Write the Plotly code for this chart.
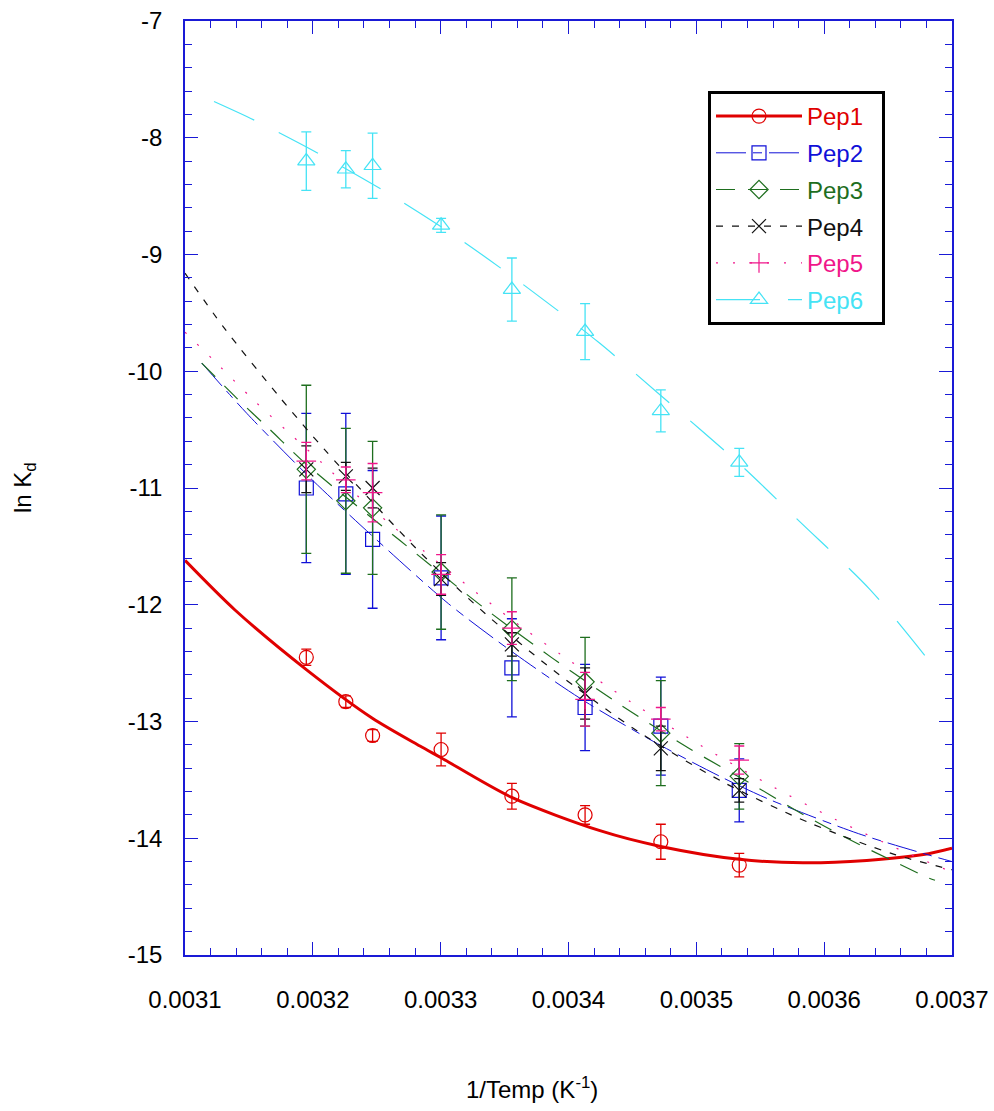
import plotly.graph_objects as go

# Measurement temperatures (K) and reciprocal temperature axis
temps_K = [313, 310, 308, 303, 298, 293, 288, 283]
inv_T = [1.0 / t for t in temps_K]

# ln Kd measurements and their uncertainties for each peptide
pep1_y = [-12.45, -12.83, -13.12, -13.24, -13.64, -13.80, -14.03, -14.23]
pep1_err = [0.07, 0.05, 0.05, 0.14, 0.11, 0.08, 0.15, 0.10]
pep2_y = [-11.00, -11.05, -11.44, -11.77, -12.54, -12.88, -13.04, -13.59]
pep2_err = [0.64, 0.69, 0.59, 0.53, 0.42, 0.37, 0.42, 0.27]
pep3_y = [-10.84, -11.11, -11.17, -11.72, -12.21, -12.66, -13.10, -13.47]
pep3_err = [0.72, 0.62, 0.57, 0.49, 0.44, 0.38, 0.45, 0.28]
pep4_y = [-10.84, -10.90, -11.00, -11.78, -12.34, -12.76, -13.23, -13.59]
pep4_err = [0.20, 0.12, 0.17, 0.14, 0.10, 0.22, 0.19, 0.10]
pep5_y = [-10.77, -10.93, -11.04, -11.74, -12.20, -12.81, -12.98, -13.33]
pep5_err = [0.16, 0.11, 0.25, 0.17, 0.14, 0.23, 0.10, 0.12]
pep6_y = [-8.20, -8.27, -8.24, -8.75, -9.30, -9.66, -10.34, -10.78]
pep6_err = [0.25, 0.16, 0.28, 0.06, 0.27, 0.24, 0.18, 0.12]

# Fitted van't Hoff curves (1/T, ln Kd)
pep1_fit_x = [0.0031000, 0.0031391, 0.0031954, 0.0032463, 0.0032838, 0.0033003, 0.0033556,
              0.0034246, 0.0034721, 0.0035336, 0.0035834, 0.0036333, 0.0036776, 0.0037000]
pep1_fit_y = [-11.62, -12.045, -12.56, -12.97, -13.21, -13.31, -13.65,
              -13.935, -14.07, -14.18, -14.21, -14.19, -14.14, -14.085]
pep2_fit_x = [0.0031131, 0.0031483, 0.0032004, 0.0032525, 0.0033060, 0.0033581, 0.0034103,
              0.0034663, 0.0035185, 0.0035576, 0.0036267, 0.0036775, 0.0037000]
pep2_fit_y = [-9.93, -10.36, -10.94, -11.47, -11.99, -12.42, -12.81,
              -13.17, -13.47, -13.67, -13.96, -14.13, -14.20]
pep3_fit_x = [0.0031131, 0.0031404, 0.0031665, 0.0031952, 0.0032682, 0.0033331, 0.0033871,
              0.0034403, 0.0034935, 0.0035478, 0.0035737, 0.0036006, 0.0036267, 0.0036548,
              0.0036806, 0.0036867]
pep3_fit_y = [-9.93, -10.23, -10.50, -10.80, -11.45, -12.02, -12.455,
              -12.855, -13.225, -13.565, -13.735, -13.90, -14.05, -14.20,
              -14.335, -14.36]
pep4_fit_x = [0.0031000, 0.0031300, 0.0031735, 0.0032087, 0.0032815, 0.0033353, 0.0033881,
              0.0034544, 0.0035211, 0.0035889, 0.0036554, 0.0037000]
pep4_fit_y = [-9.16, -9.62, -10.215, -10.665, -11.525, -12.08, -12.56,
              -13.085, -13.52, -13.87, -14.14, -14.27]
pep5_fit_x = [0.0031000, 0.0031274, 0.0031530, 0.0031811, 0.0032066, 0.0032332, 0.0032600,
              0.0032868, 0.0033278, 0.0033677, 0.0033944, 0.0034485, 0.0035019, 0.0035551,
              0.0036081, 0.0036615, 0.0037000]
pep5_fit_y = [-9.665, -9.96, -10.24, -10.525, -10.78, -11.05, -11.305,
              -11.54, -11.895, -12.225, -12.43, -12.83, -13.195, -13.53,
              -13.835, -14.11, -14.29]
pep6_fit_x = [0.0031227, 0.0031566, 0.0032087, 0.0032625, 0.0033151, 0.0033686, 0.0034233,
              0.0034724, 0.0035334, 0.0035811, 0.0036359, 0.0036828]
pep6_fit_y = [-7.69, -7.862, -8.16, -8.50, -8.87, -9.29, -9.75,
              -10.21, -10.79, -11.29, -11.87, -12.49]

# Axis ticks
x_tickvals = [0.0031, 0.0032, 0.0033, 0.0034, 0.0035, 0.0036, 0.0037]
x_ticktext = ["0.0031", "0.0032", "0.0033", "0.0034", "0.0035", "0.0036", "0.0037"]
y_tickvals = [-15, -14, -13, -12, -11, -10, -9, -8, -7]
y_ticktext = ["-15", "-14", "-13", "-12", "-11", "-10", "-9", "-8", "-7"]

FONT = "Liberation Sans, Arial, Helvetica, sans-serif"
FONT_SIZE = 24
AXIS_BLUE = "#1a1ad6"

series = [
    dict(name="Pep1", y=pep1_y, err=pep1_err, fx=pep1_fit_x, fy=pep1_fit_y,
         color="#e00000", width=3, dash="solid", symbol="circle-open", size=14),
    dict(name="Pep2", y=pep2_y, err=pep2_err, fx=pep2_fit_x, fy=pep2_fit_y,
         color="#1010d8", width=1, dash="30px,7px,9px,7px", symbol="square-open", size=14),
    dict(name="Pep3", y=pep3_y, err=pep3_err, fx=pep3_fit_x, fy=pep3_fit_y,
         color="#1e6e1e", width=1.2, dash="19px,13px", symbol="diamond-open", size=14),
    dict(name="Pep4", y=pep4_y, err=pep4_err, fx=pep4_fit_x, fy=pep4_fit_y,
         color="#111111", width=1.2, dash="7px,9px", symbol="x-thin-open", size=14),
    dict(name="Pep5", y=pep5_y, err=pep5_err, fx=pep5_fit_x, fy=pep5_fit_y,
         color="#f0168a", width=1.2, dash="2px,15px", symbol="cross-thin-open", size=14),
    dict(name="Pep6", y=pep6_y, err=pep6_err, fx=pep6_fit_x, fy=pep6_fit_y,
         color="#45e3f5", width=1.2, dash="44px,28px", symbol="triangle-up-open", size=15),
]

fig = go.Figure()

for s in series:
    # fitted curve
    fig.add_trace(go.Scatter(
        x=s["fx"], y=s["fy"], mode="lines",
        line=dict(color=s["color"], width=s["width"], dash=s["dash"], shape="spline", smoothing=0.8),
        showlegend=False, hoverinfo="skip",
    ))
    # measured points with error bars
    fig.add_trace(go.Scatter(
        x=inv_T, y=s["y"], mode="markers",
        marker=dict(symbol=s["symbol"], size=s["size"], color=s["color"],
                    line=dict(color=s["color"], width=1.2)),
        error_y=dict(type="data", array=s["err"], visible=True,
                     color=s["color"], thickness=1.3, width=5),
        showlegend=False,
    ))
    # legend sample: line + marker
    fig.add_trace(go.Scatter(
        x=[None], y=[None], mode="lines+markers",
        name=f"<span style='color:{s['color']}'>{s['name']}</span>\u00a0\u00a0",
        line=dict(color=s["color"], width=s["width"], dash=s["dash"]),
        marker=dict(symbol=s["symbol"], size=s["size"], color=s["color"],
                    line=dict(color=s["color"], width=1.2)),
        legendgroup=s["name"],
    ))

axis_common = dict(
    showline=True, linecolor=AXIS_BLUE, linewidth=1.5, mirror="ticks",
    ticks="inside", tickcolor=AXIS_BLUE, tickwidth=1.3, ticklen=13,
    showgrid=False, zeroline=False, automargin=False,
    tickfont=dict(family=FONT, size=FONT_SIZE, color="black"),
)

fig.update_xaxes(
    range=[0.0031, 0.0037], tickvals=x_tickvals, ticktext=x_ticktext,
    minor=dict(ticks="inside", ticklen=7, dtick=0.00002, tick0=0.0031,
               tickcolor=AXIS_BLUE, tickwidth=1.3, showgrid=False),
    ticklabelstandoff=22,
    **axis_common,
)
fig.update_yaxes(
    range=[-15, -7], tickvals=y_tickvals, ticktext=y_ticktext,
    minor=dict(ticks="inside", ticklen=7, dtick=0.2, tick0=-15,
               tickcolor=AXIS_BLUE, tickwidth=1.3, showgrid=False),
    ticklabelstandoff=16,
    **axis_common,
)

fig.add_annotation(
    text="1/Temp (K<sup>-1</sup>)", xref="paper", yref="paper",
    x=(532 - 185) / 767, y=-(1088 - 955) / 934, xanchor="center", yanchor="middle",
    showarrow=False, font=dict(family=FONT, size=FONT_SIZE, color="black"),
)
fig.add_annotation(
    text="ln K<sub>d</sub>", xref="paper", yref="paper",
    x=-(185 - 24) / 767, y=0.5, xanchor="center", yanchor="middle", textangle=-90,
    showarrow=False, font=dict(family=FONT, size=FONT_SIZE, color="black"),
)

fig.update_layout(
    width=994, height=1111,
    margin=dict(l=185, r=42, t=21, b=156, pad=0),
    plot_bgcolor="white", paper_bgcolor="white",
    font=dict(family=FONT, size=FONT_SIZE, color="black"),
    legend=dict(
        x=(708 - 185) / 767, y=(955 - 91) / 934, xanchor="left", yanchor="top",
        bordercolor="black", borderwidth=3, bgcolor="white",
        font=dict(family=FONT, size=FONT_SIZE), itemwidth=86, tracegroupgap=2.5,
    ),
    showlegend=True,
)

fig.write_html("out.html")
